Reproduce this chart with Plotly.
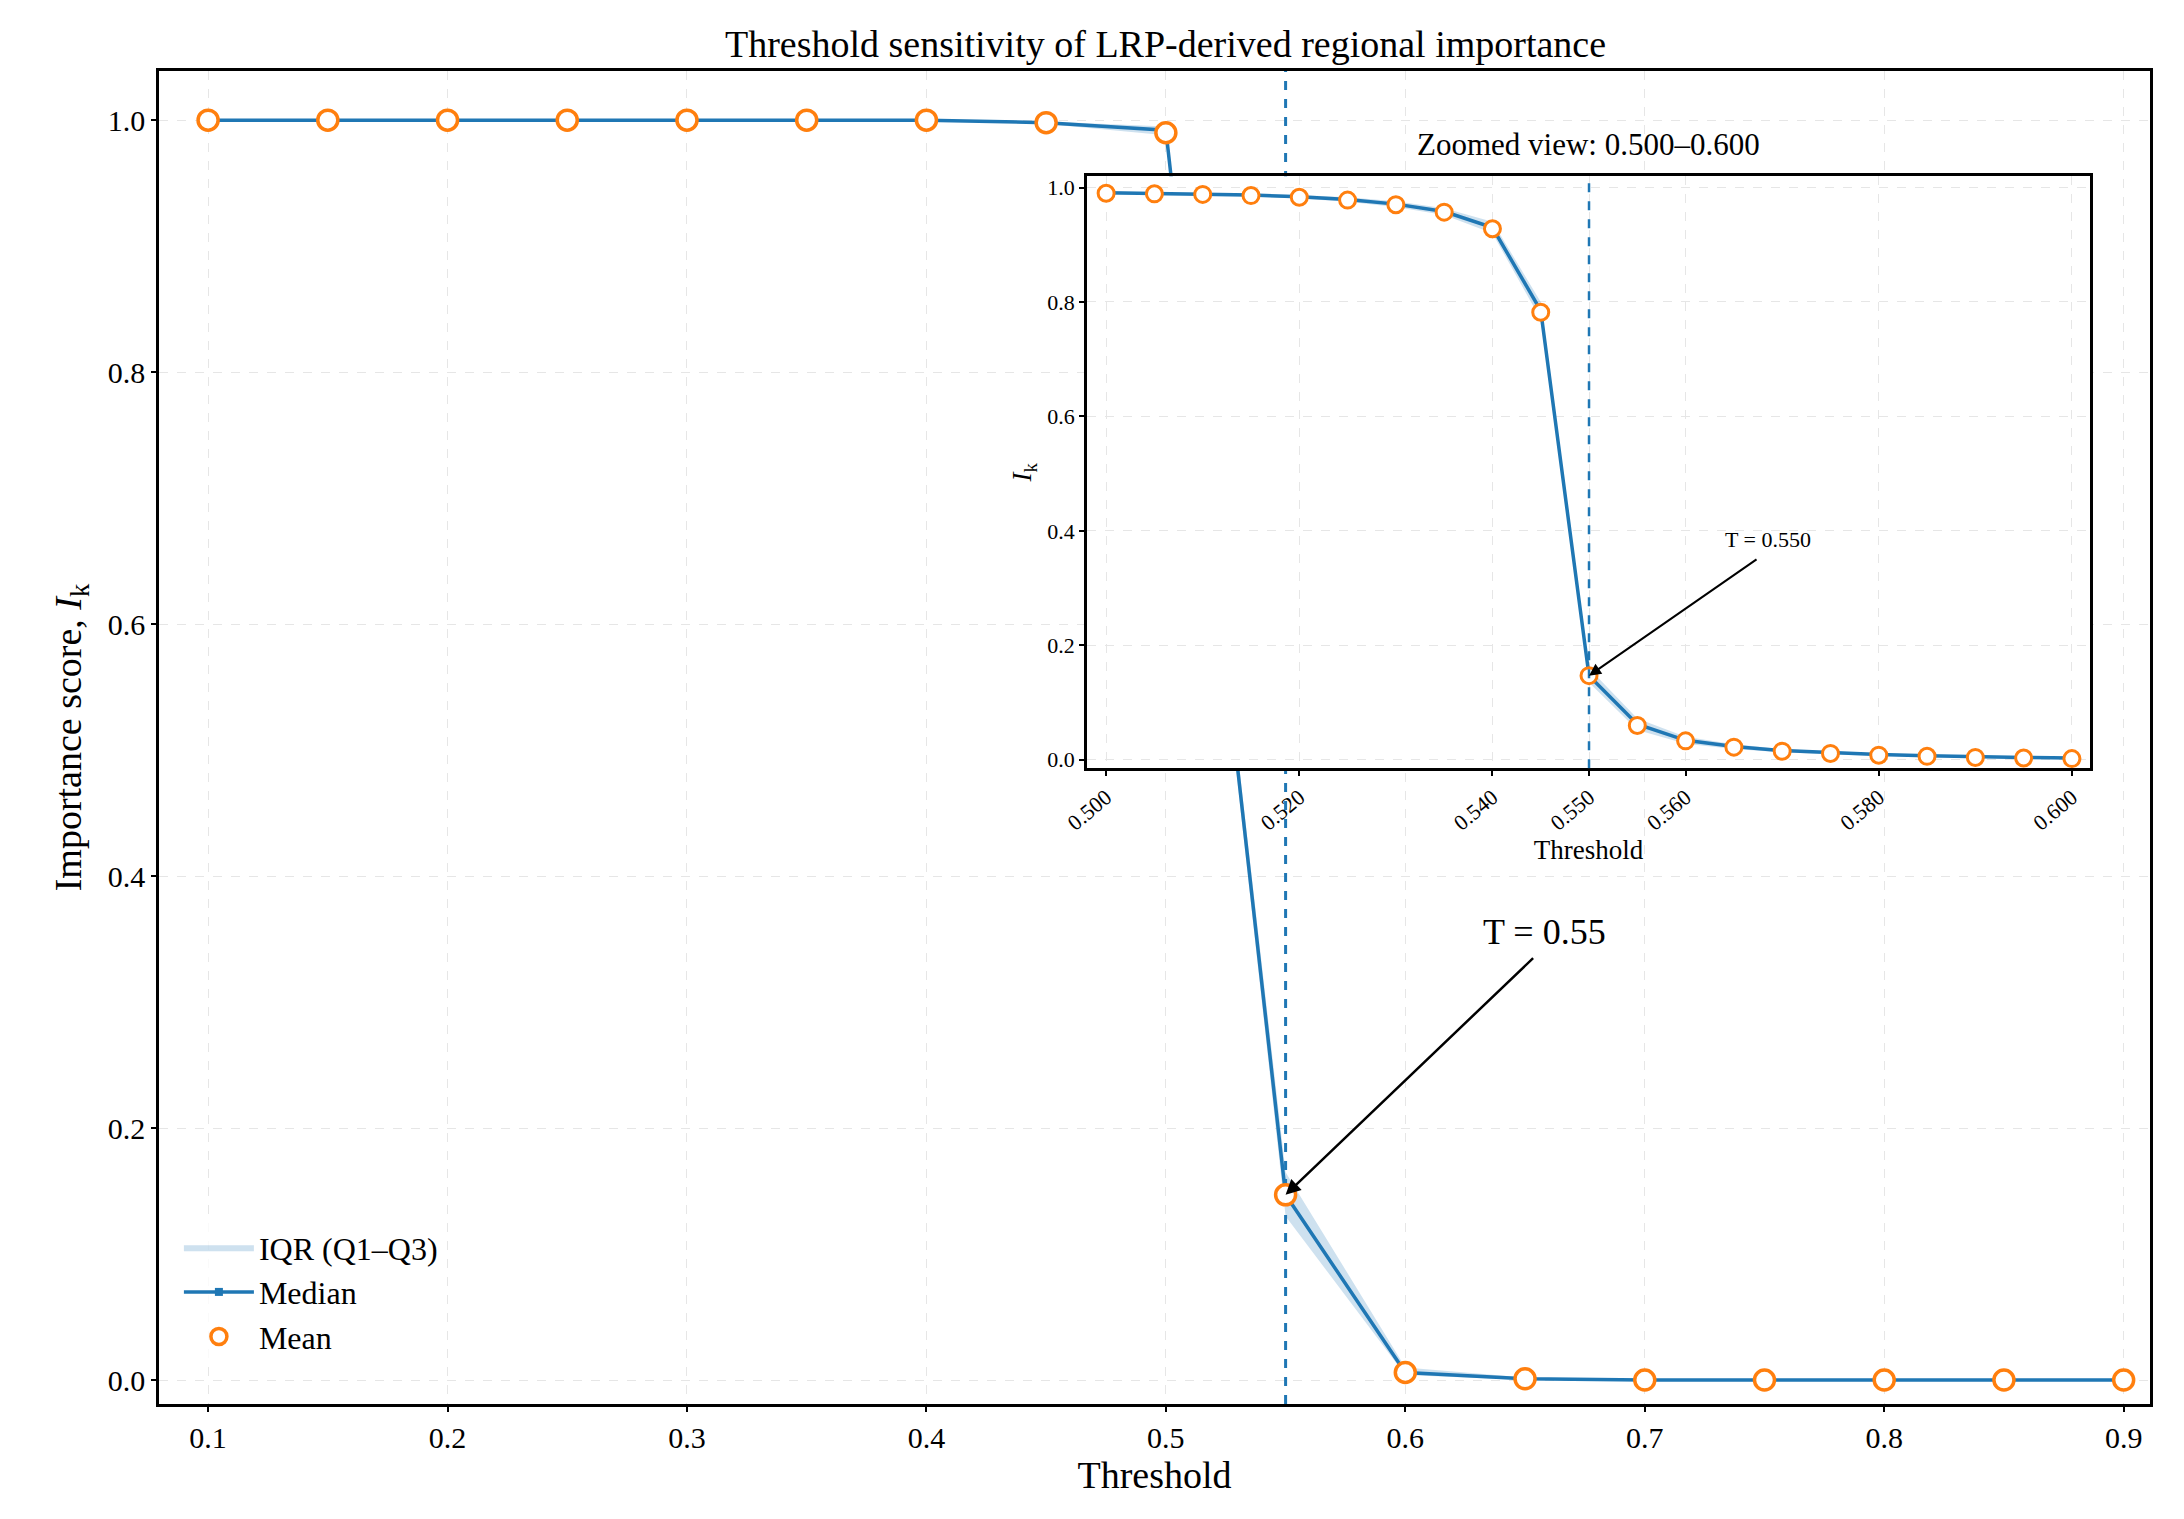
import plotly.graph_objects as go

# main sweep
thr = [0.10, 0.15, 0.20, 0.25, 0.30, 0.35, 0.40, 0.45, 0.50, 0.55, 0.60, 0.65, 0.70, 0.75, 0.80, 0.85, 0.90]
median = [1.0, 1.0, 1.0, 1.0, 1.0, 1.0, 1.0, 0.998, 0.992, 0.147, 0.006, 0.001, 0.0, 0.0, 0.0, 0.0, 0.0]
mean = [1.0, 1.0, 1.0, 1.0, 1.0, 1.0, 1.0, 0.998, 0.990, 0.147, 0.006, 0.001, 0.0, 0.0, 0.0, 0.0, 0.0]
q1 = [1.0, 1.0, 1.0, 1.0, 1.0, 1.0, 1.0, 0.997, 0.988, 0.130, 0.004, 0.0, 0.0, 0.0, 0.0, 0.0, 0.0]
q3 = [1.0, 1.0, 1.0, 1.0, 1.0, 1.0, 1.0, 0.999, 0.995, 0.165, 0.010, 0.002, 0.0, 0.0, 0.0, 0.0, 0.0]

# zoomed sweep
zthr = [0.500, 0.505, 0.510, 0.515, 0.520, 0.525, 0.530, 0.535, 0.540, 0.545, 0.550,
        0.555, 0.560, 0.565, 0.570, 0.575, 0.580, 0.585, 0.590, 0.595, 0.600]
zmedian = [0.991, 0.990, 0.989, 0.987, 0.984, 0.979, 0.971, 0.958, 0.930, 0.785, 0.147,
           0.062, 0.034, 0.023, 0.016, 0.012, 0.009, 0.007, 0.005, 0.004, 0.003]
zmean = [0.990, 0.989, 0.988, 0.986, 0.983, 0.978, 0.970, 0.957, 0.928, 0.782, 0.147,
         0.060, 0.033, 0.022, 0.015, 0.011, 0.008, 0.006, 0.004, 0.003, 0.002]
zq1 = [0.988, 0.987, 0.986, 0.984, 0.981, 0.975, 0.966, 0.952, 0.920, 0.770, 0.135,
       0.052, 0.028, 0.019, 0.013, 0.009, 0.007, 0.005, 0.003, 0.002, 0.001]
zq3 = [0.993, 0.992, 0.991, 0.989, 0.987, 0.983, 0.976, 0.964, 0.940, 0.800, 0.160,
       0.072, 0.040, 0.027, 0.019, 0.014, 0.011, 0.009, 0.007, 0.005, 0.004]
ztick = [0.50, 0.52, 0.54, 0.55, 0.56, 0.58, 0.60]
T = 0.55

BLUE = "#1f77b4"
ORANGE = "#ff7f0e"
FONT = "Liberation Serif"

fig = go.Figure()

# main panel
fig.add_trace(go.Scatter(x=thr, y=q3, mode="lines", line=dict(width=0), showlegend=False, hoverinfo="skip"))
fig.add_trace(go.Scatter(x=thr, y=q1, mode="lines", line=dict(width=0), fill="tonexty",
                         fillcolor="rgba(31,119,180,0.22)", name="IQR (Q1–Q3)"))
fig.add_trace(go.Scatter(x=thr, y=median, mode="lines+markers", line=dict(color=BLUE, width=3.5),
                         marker=dict(symbol="square", size=8, color=BLUE), name="Median"))
fig.add_trace(go.Scatter(x=thr, y=mean, mode="markers", name="Mean",
                         marker=dict(symbol="circle", size=20, color="white", line=dict(color=ORANGE, width=3.5))))

# inset panel
fig.add_trace(go.Scatter(x=zthr, y=zq3, mode="lines", line=dict(width=0), showlegend=False,
                         hoverinfo="skip", xaxis="x2", yaxis="y2"))
fig.add_trace(go.Scatter(x=zthr, y=zq1, mode="lines", line=dict(width=0), fill="tonexty",
                         fillcolor="rgba(31,119,180,0.22)", showlegend=False, xaxis="x2", yaxis="y2"))
fig.add_trace(go.Scatter(x=zthr, y=zmedian, mode="lines", line=dict(color=BLUE, width=3.5),
                         showlegend=False, xaxis="x2", yaxis="y2"))
fig.add_trace(go.Scatter(x=zthr, y=zmean, mode="markers", showlegend=False, xaxis="x2", yaxis="y2",
                         marker=dict(symbol="circle", size=16, color="white", line=dict(color=ORANGE, width=3))))

ax_common = dict(showline=True, linecolor="black", linewidth=2.5, mirror=True, ticks="outside",
                 tickcolor="black", tickwidth=2, showgrid=True, gridcolor="#e6e6e6", griddash="dash",
                 zeroline=False)

fig.update_layout(
    width=2184, height=1519,
    paper_bgcolor="white", plot_bgcolor="white",
    font=dict(family=FONT, color="black", size=30),
    margin=dict(l=151, r=42, t=63, b=123),
    title=dict(text="Threshold sensitivity of LRP-derived regional importance", x=0.53, y=0.985,
               xanchor="center", font=dict(size=38)),
    xaxis=dict(**ax_common, range=[0.0795, 0.911], tickvals=[0.1, 0.2, 0.3, 0.4, 0.5, 0.6, 0.7, 0.8, 0.9],
               title=dict(text="Threshold", font=dict(size=38), standoff=8), tickfont=dict(size=30)),
    yaxis=dict(**ax_common, range=[-0.019, 1.039], tickvals=[0, 0.2, 0.4, 0.6, 0.8, 1.0], tickformat=".1f",
               title=dict(text="Importance score, <i>I</i><sub>k</sub>", font=dict(size=38), standoff=15),
               tickfont=dict(size=30)),
    xaxis2=dict(**ax_common, domain=[0.466, 0.970], anchor="y2", range=[0.498, 0.6019],
                tickvals=ztick, tickformat=".3f", tickangle=-40, tickfont=dict(size=22),
                title=dict(text="Threshold", font=dict(size=27), standoff=5)),
    yaxis2=dict(**ax_common, domain=[0.477, 0.921], anchor="x2", range=[-0.0147, 1.0196],
                tickvals=[0, 0.2, 0.4, 0.6, 0.8, 1.0], tickformat=".1f", tickfont=dict(size=22),
                title=dict(text="<i>I</i><sub>k</sub>", font=dict(size=27), standoff=8)),
    legend=dict(x=0.01, y=0.03, xanchor="left", yanchor="bottom", bgcolor="rgba(255,255,255,0.8)",
                font=dict(size=32), itemwidth=70, traceorder="normal"),
    showlegend=True,
)

fig.add_shape(type="rect", xref="x2 domain", yref="y2 domain", x0=0, x1=1, y0=0, y1=1,
              fillcolor="white", line=dict(width=0), layer="below")
fig.add_shape(type="line", xref="x", yref="y domain", x0=T, x1=T, y0=0, y1=1, layer="below",
              line=dict(color=BLUE, width=3, dash="dash"))
fig.add_shape(type="line", xref="x2", yref="y2 domain", x0=T, x1=T, y0=0, y1=1,
              line=dict(color=BLUE, width=2.5, dash="dash"))

fig.add_annotation(x=T, y=median[9], ax=0.654, ay=0.336, axref="x", ayref="y", xref="x", yref="y",
                   text="", showarrow=True, arrowhead=2, arrowsize=1.2, arrowwidth=2.5, arrowcolor="black")
fig.add_annotation(x=0.658, y=0.338, xref="x", yref="y", text="T = 0.55", showarrow=False,
                   xanchor="center", yanchor="bottom", font=dict(size=36))
fig.add_annotation(x=T, y=zmean[10], ax=0.5675, ay=0.352, axref="x2", ayref="y2", xref="x2", yref="y2",
                   text="", showarrow=True, arrowhead=2, arrowsize=1.2, arrowwidth=2, arrowcolor="black")
fig.add_annotation(x=0.5685, y=0.36, xref="x2", yref="y2", text="T = 0.550", showarrow=False,
                   xanchor="center", yanchor="bottom", font=dict(size=22))
fig.add_annotation(x=0.5, y=1.0, xref="x2 domain", yref="y2 domain", yshift=12, text="Zoomed view: 0.500–0.600",
                   showarrow=False, xanchor="center", yanchor="bottom", font=dict(size=31))

fig.write_html("out.html")
